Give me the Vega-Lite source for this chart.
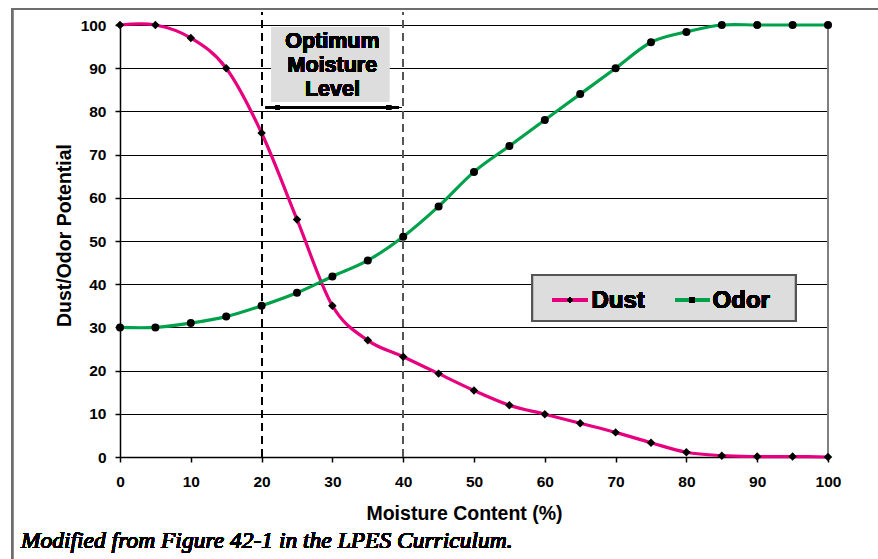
{
  "$schema": "https://vega.github.io/schema/vega-lite/v6.json",
  "width": 708,
  "height": 432,
  "autosize": {"type": "none"},
  "padding": {"left": 120, "top": 25, "right": 50, "bottom": 102},
  "background": "white",
  "config": {
    "view": {"stroke": null},
    "axis": {
      "labelFont": "Liberation Sans",
      "labelFontWeight": "bold",
      "labelFontSize": 15.5,
      "labelColor": "black",
      "labelFlush": false,
      "labelOverlap": false,
      "domainColor": "black",
      "domainWidth": 1.5,
      "tickColor": "black",
      "tickSize": 5,
      "tickWidth": 1.5,
      "titleFont": "Liberation Sans",
      "titleFontWeight": "bold",
      "titleFontSize": 19.5,
      "titleColor": "black",
      "gridColor": "black",
      "gridWidth": 1,
      "gridOpacity": 1
    },
    "axisX": {"grid": false, "labelPadding": 12, "titleX": 344, "titleY": 62, "titleBaseline": "alphabetic", "titleAlign": "center"},
    "axisY": {"grid": true, "labelPadding": 9, "titleX": -50, "titleY": 210, "titleBaseline": "alphabetic", "titleAlign": "center", "titleAngle": -90}
  },
  "data": {
    "values": [
      {"moisture": 0, "potential": 100, "series": "Dust"},
      {"moisture": 5, "potential": 100, "series": "Dust"},
      {"moisture": 10, "potential": 97, "series": "Dust"},
      {"moisture": 15, "potential": 90, "series": "Dust"},
      {"moisture": 20, "potential": 75, "series": "Dust"},
      {"moisture": 25, "potential": 55, "series": "Dust"},
      {"moisture": 30, "potential": 35, "series": "Dust"},
      {"moisture": 35, "potential": 27, "series": "Dust"},
      {"moisture": 40, "potential": 23.2, "series": "Dust"},
      {"moisture": 45, "potential": 19.3, "series": "Dust"},
      {"moisture": 50, "potential": 15.4, "series": "Dust"},
      {"moisture": 55, "potential": 12, "series": "Dust"},
      {"moisture": 60, "potential": 9.9, "series": "Dust"},
      {"moisture": 65, "potential": 7.8, "series": "Dust"},
      {"moisture": 70, "potential": 5.7, "series": "Dust"},
      {"moisture": 75, "potential": 3.3, "series": "Dust"},
      {"moisture": 80, "potential": 1.1, "series": "Dust"},
      {"moisture": 85, "potential": 0.3, "series": "Dust"},
      {"moisture": 90, "potential": 0.1, "series": "Dust"},
      {"moisture": 95, "potential": 0.1, "series": "Dust"},
      {"moisture": 100, "potential": 0, "series": "Dust"},
      {"moisture": 0, "potential": 30, "series": "Odor"},
      {"moisture": 5, "potential": 30, "series": "Odor"},
      {"moisture": 10, "potential": 31, "series": "Odor"},
      {"moisture": 15, "potential": 32.5, "series": "Odor"},
      {"moisture": 20, "potential": 35, "series": "Odor"},
      {"moisture": 25, "potential": 38, "series": "Odor"},
      {"moisture": 30, "potential": 41.8, "series": "Odor"},
      {"moisture": 35, "potential": 45.5, "series": "Odor"},
      {"moisture": 40, "potential": 51, "series": "Odor"},
      {"moisture": 45, "potential": 58, "series": "Odor"},
      {"moisture": 50, "potential": 66, "series": "Odor"},
      {"moisture": 55, "potential": 72, "series": "Odor"},
      {"moisture": 60, "potential": 78, "series": "Odor"},
      {"moisture": 65, "potential": 84, "series": "Odor"},
      {"moisture": 70, "potential": 90, "series": "Odor"},
      {"moisture": 75, "potential": 96, "series": "Odor"},
      {"moisture": 80, "potential": 98.4, "series": "Odor"},
      {"moisture": 85, "potential": 100, "series": "Odor"},
      {"moisture": 90, "potential": 100, "series": "Odor"},
      {"moisture": 95, "potential": 100, "series": "Odor"},
      {"moisture": 100, "potential": 100, "series": "Odor"}
    ]
  },
  "layer": [
    {
      "mark": {"type": "rect", "fillOpacity": 0, "stroke": "#6e6e6e", "strokeWidth": 2},
      "encoding": {
        "x": {"datum": -15.25, "type": "quantitative"},
        "x2": {"datum": 115},
        "y": {"datum": 103.7, "type": "quantitative"},
        "y2": {"datum": -40}
      }
    },
    {
      "mark": {"type": "rect", "fill": "#DDDDDD"},
      "encoding": {
        "x": {"datum": 21.43, "type": "quantitative"},
        "x2": {"datum": 38.0},
        "y": {"datum": 99.47, "type": "quantitative"},
        "y2": {"datum": 82.25}
      }
    },
    {
      "mark": {"type": "rule", "color": "black", "strokeWidth": 1.2, "strokeDash": [8, 5]},
      "encoding": {
        "x": {"datum": 20, "type": "quantitative"},
        "y": {"datum": 0, "type": "quantitative"},
        "y2": {"datum": 103}
      }
    },
    {
      "mark": {"type": "rule", "color": "#555555", "strokeWidth": 1.5, "strokeDash": [8, 5]},
      "encoding": {
        "x": {"datum": 40, "type": "quantitative"},
        "y": {"datum": 0, "type": "quantitative"},
        "y2": {"datum": 103}
      }
    },
    {
      "mark": {"type": "rule", "color": "black", "strokeWidth": 1.5},
      "encoding": {
        "x": {"datum": 20.6, "type": "quantitative"},
        "x2": {"datum": 39.4},
        "y": {"datum": 80.9, "type": "quantitative"}
      }
    },
    {
      "mark": {"type": "point", "shape": "M -1 0 L 1 -0.3 L 1 0.3 Z", "filled": true, "color": "black", "size": 225, "opacity": 1},
      "encoding": {
        "x": {"datum": 21.54, "type": "quantitative"},
        "y": {"datum": 80.9, "type": "quantitative"}
      }
    },
    {
      "mark": {"type": "point", "shape": "M 1 0 L -1 -0.3 L -1 0.3 Z", "filled": true, "color": "black", "size": 225, "opacity": 1},
      "encoding": {
        "x": {"datum": 38.72, "type": "quantitative"},
        "y": {"datum": 80.9, "type": "quantitative"}
      }
    },
    {
      "mark": {"type": "rule", "color": "#808080", "strokeWidth": 2},
      "encoding": {
        "x": {"datum": 100, "type": "quantitative"},
        "y": {"datum": 0, "type": "quantitative"},
        "y2": {"datum": 100}
      }
    },
    {
      "mark": {"type": "line", "interpolate": "cardinal", "strokeWidth": 3.2},
      "encoding": {
        "x": {"field": "moisture", "type": "quantitative", "title": "Moisture Content (%)",
              "scale": {"domain": [0, 100], "nice": false},
              "axis": {"values": [0, 10, 20, 30, 40, 50, 60, 70, 80, 90, 100]}},
        "y": {"field": "potential", "type": "quantitative", "title": "Dust/Odor Potential",
              "scale": {"domain": [0, 100], "nice": false},
              "axis": {"values": [0, 10, 20, 30, 40, 50, 60, 70, 80, 90, 100]}},
        "color": {"field": "series", "type": "nominal", "legend": null,
                  "scale": {"domain": ["Dust", "Odor"], "range": ["#E6007E", "#00A14B"]}}
      }
    },
    {
      "mark": {"type": "point", "filled": true, "color": "black", "opacity": 1},
      "encoding": {
        "x": {"field": "moisture", "type": "quantitative"},
        "y": {"field": "potential", "type": "quantitative"},
        "shape": {"field": "series", "type": "nominal", "legend": null,
                  "scale": {"domain": ["Dust", "Odor"], "range": ["diamond", "circle"]}},
        "size": {"field": "series", "type": "nominal", "legend": null,
                 "scale": {"domain": ["Dust", "Odor"], "range": [72, 64]}}
      }
    },
    {
      "mark": {"type": "text", "font": "Liberation Sans", "fontWeight": "bold", "fontSize": 21.5, "align": "center", "baseline": "alphabetic", "lineHeight": 24, "color": "black", "strokeWidth": 0},
      "encoding": {
        "x": {"datum": 30, "type": "quantitative"},
        "y": {"datum": 94.6, "type": "quantitative"},
        "text": {"value": ["Optimum", "Moisture", "Level"]}
      }
    },
    {
      "mark": {"type": "rect", "fill": "#DDDDDD", "stroke": "#555555", "strokeWidth": 2},
      "encoding": {
        "x": {"datum": 58.23, "type": "quantitative"},
        "x2": {"datum": 95.44},
        "y": {"datum": 42.13, "type": "quantitative"},
        "y2": {"datum": 31.48}
      }
    },
    {
      "mark": {"type": "rule", "strokeWidth": 3.2},
      "encoding": {
        "x": {"datum": 61.1, "type": "quantitative"},
        "x2": {"datum": 66.0},
        "y": {"datum": 36.34, "type": "quantitative"},
        "color": {"datum": "Dust", "type": "nominal"}
      }
    },
    {
      "mark": {"type": "rule", "strokeWidth": 3.2},
      "encoding": {
        "x": {"datum": 78.39, "type": "quantitative"},
        "x2": {"datum": 83.23},
        "y": {"datum": 36.34, "type": "quantitative"},
        "color": {"datum": "Odor", "type": "nominal"}
      }
    },
    {
      "mark": {"type": "point", "filled": true, "color": "black", "opacity": 1, "shape": "diamond", "size": 34},
      "encoding": {
        "x": {"datum": 63.56, "type": "quantitative"},
        "y": {"datum": 36.34, "type": "quantitative"}
      }
    },
    {
      "mark": {"type": "point", "filled": true, "color": "black", "opacity": 1, "shape": "circle", "size": 34},
      "encoding": {
        "x": {"datum": 80.8, "type": "quantitative"},
        "y": {"datum": 36.34, "type": "quantitative"}
      }
    },
    {
      "mark": {"type": "text", "font": "Liberation Sans", "fontWeight": "bold", "fontSize": 24, "align": "left", "baseline": "alphabetic", "color": "black", "strokeWidth": 0},
      "encoding": {
        "x": {"datum": 66.6, "type": "quantitative"},
        "y": {"datum": 34.56, "type": "quantitative"},
        "text": {"value": "Dust"}
      }
    },
    {
      "mark": {"type": "text", "font": "Liberation Sans", "fontWeight": "bold", "fontSize": 24, "align": "left", "baseline": "alphabetic", "color": "black", "strokeWidth": 0},
      "encoding": {
        "x": {"datum": 83.7, "type": "quantitative"},
        "y": {"datum": 34.56, "type": "quantitative"},
        "text": {"value": "Odor"}
      }
    },
    {
      "mark": {"type": "text", "font": "Liberation Serif", "fontStyle": "italic", "fontWeight": "normal", "fontSize": 23.5, "align": "left", "baseline": "alphabetic", "color": "black", "strokeWidth": 0},
      "encoding": {
        "x": {"datum": -14.0, "type": "quantitative"},
        "y": {"datum": -21.06, "type": "quantitative"},
        "text": {"value": "Modified from Figure 42-1 in the LPES Curriculum."}
      }
    }
  ]
}
